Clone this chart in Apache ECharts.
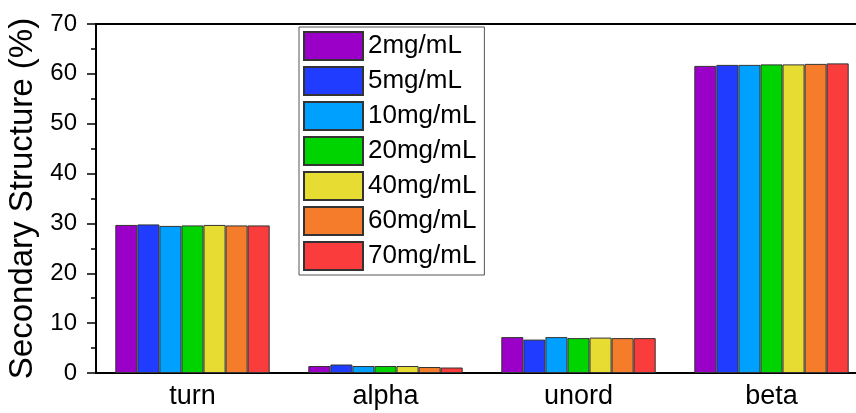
<!DOCTYPE html>
<html>
<head>
<meta charset="utf-8">
<script src="https://cdn.jsdelivr.net/npm/echarts@6/dist/echarts.min.js"></script>
<style>
  html, body { margin: 0; padding: 0; background: #fff; }
  #chart { width: 856px; height: 413px; }
</style>
</head>
<body>
<div id="chart"></div>
<script>
// Secondary structure fractions per concentration
var categories = ['turn', 'alpha', 'unord', 'beta'];
var seriesNames = ['2mg/mL', '5mg/mL', '10mg/mL', '20mg/mL', '40mg/mL', '60mg/mL', '70mg/mL'];
var conc2  = [29.7, 1.4, 7.2, 61.6];
var conc5  = [29.8, 1.7, 6.7, 61.8];
var conc10 = [29.5, 1.4, 7.2, 61.8];
var conc20 = [29.6, 1.4, 7.0, 61.9];
var conc40 = [29.7, 1.4, 7.1, 61.9];
var conc60 = [29.6, 1.2, 7.0, 62.0];
var conc70 = [29.6, 1.1, 7.0, 62.1];
var seriesValues = [conc2, conc5, conc10, conc20, conc40, conc60, conc70];
var yTicks = [0, 10, 20, 30, 40, 50, 60, 70];

var colors = ['#9b00c8', '#1f3cff', '#00a0ff', '#00d400', '#e6dc32', '#f47c2a', '#fa3c3c'];
var font = 'Liberation Sans, Arial, sans-serif';

var chart = echarts.init(document.getElementById('chart'), null, { renderer: 'canvas' });

chart.setOption({
  animation: false,
  backgroundColor: '#fff',
  textStyle: { fontFamily: font },
  grid: {
    left: 96, top: 24, bottom: 40, right: -12,
    outerBoundsMode: 'none',
    containLabel: false,
    show: true, borderColor: '#000', borderWidth: 2, backgroundColor: 'transparent'
  },
  legend: {
    orient: 'vertical',
    left: 299, top: 27,
    padding: [4, 8, 4, 4],
    icon: 'rect',
    itemWidth: 59, itemHeight: 28, itemGap: 5,
    borderColor: '#555', borderWidth: 1,
    backgroundColor: '#fff',
    textStyle: { fontSize: 26, lineHeight: 28, color: '#000', fontFamily: font },
    data: seriesNames
  },
  xAxis: [
    {
      type: 'category',
      data: categories,
      axisLine: { lineStyle: { color: '#000', width: 2 } },
      axisTick: { alignWithLabel: true, length: 8, lineStyle: { color: '#000', width: 2 } },
      axisLabel: { color: '#000', fontSize: 27, margin: 10, fontFamily: font },
      splitLine: { show: false }
    },
    {
      // short ticks on the category boundaries
      type: 'category',
      data: categories,
      position: 'bottom',
      axisLine: { show: false },
      axisTick: { alignWithLabel: false, length: 5, lineStyle: { color: '#000', width: 1.5 } },
      axisLabel: { show: false },
      splitLine: { show: false }
    }
  ],
  yAxis: {
    type: 'value',
    min: 0, max: 70, interval: 10,
    name: 'Secondary Structure (%)',
    nameLocation: 'middle',
    nameGap: 56,
    nameTextStyle: { fontSize: 33, color: '#000', fontFamily: font },
    axisLine: { show: true, lineStyle: { color: '#000', width: 2 } },
    axisTick: { show: true, length: 9, lineStyle: { color: '#000', width: 1.5 } },
    minorTick: { show: true, splitNumber: 2, length: 5, lineStyle: { color: '#000', width: 1.5 } },
    axisLabel: {
      color: '#000', fontSize: 24, margin: 19, fontFamily: font,
      formatter: function (v) { return yTicks.indexOf(v) >= 0 ? String(v) : ''; }
    },
    splitLine: { show: false }
  },
  series: seriesNames.map(function (name, i) {
    return {
      name: name,
      type: 'bar',
      data: seriesValues[i],
      barGap: '0%',
      barCategoryGap: '20%',
      itemStyle: { color: colors[i], borderColor: '#333', borderWidth: 1 }
    };
  })
});
</script>
</body>
</html>
